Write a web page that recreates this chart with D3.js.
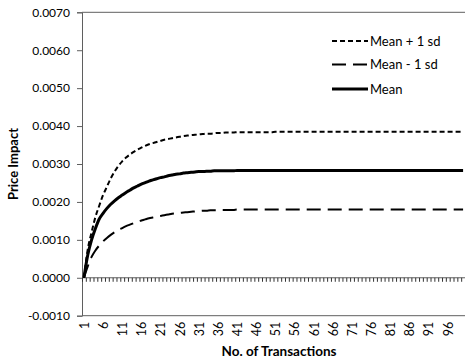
<!DOCTYPE html>
<html>
<head>
<meta charset="utf-8">
<script src="https://cdn.jsdelivr.net/npm/d3@7"></script>
<style>
  html, body { margin: 0; padding: 0; background: #fff; }
  svg { display: block; font-family: Lato, "Open Sans", sans-serif; }
</style>
</head>
<body>
<div id="chart"></div>
<script>
// Price impact over number of transactions
const categories = d3.range(1, 101); // transactions 1..100

const meanPlus = [
  0, 0.00075, 0.0012, 0.0016, 0.0019, 0.00218, 0.0024, 0.00262, 0.0028, 0.00295,
  0.00307, 0.00317, 0.00325, 0.00332, 0.00338, 0.00343, 0.00348, 0.00352, 0.00355, 0.00358,
  0.00361, 0.00364, 0.00366, 0.00368, 0.0037, 0.00372, 0.00374, 0.00375, 0.00376, 0.00377,
  0.00378, 0.00379, 0.0038, 0.0038, 0.00381, 0.00382, 0.00382, 0.00383, 0.00383, 0.00383,
  0.00384, 0.00384, 0.00384, 0.00384, 0.00384, 0.00384, 0.00384, 0.00384, 0.00384, 0.00384,
  0.00385, 0.00385, 0.00385, 0.00385, 0.00385, 0.00385, 0.00385, 0.00385, 0.00385, 0.00385,
  0.00385, 0.00385, 0.00385, 0.00385, 0.00385, 0.00385, 0.00385, 0.00385, 0.00385, 0.00385,
  0.00385, 0.00385, 0.00385, 0.00385, 0.00385, 0.00385, 0.00385, 0.00385, 0.00385, 0.00385,
  0.00385, 0.00385, 0.00385, 0.00385, 0.00385, 0.00385, 0.00385, 0.00385, 0.00385, 0.00385,
  0.00385, 0.00385, 0.00385, 0.00385, 0.00385, 0.00385, 0.00385, 0.00385, 0.00385, 0.00385
];

const meanMinus = [
  0, 0.0003, 0.00055, 0.00072, 0.00085, 0.00096, 0.00105, 0.00113, 0.0012, 0.00126,
  0.00131, 0.00136, 0.0014, 0.00144, 0.00148, 0.00151, 0.00154, 0.00157, 0.00159, 0.00161,
  0.00163, 0.00165, 0.00167, 0.00169, 0.0017, 0.00171, 0.00172, 0.00173, 0.00174, 0.00175,
  0.00176, 0.00177, 0.00177, 0.00178, 0.00178, 0.00178, 0.00179, 0.00179, 0.00179, 0.00179,
  0.0018, 0.0018, 0.0018, 0.0018, 0.0018, 0.0018, 0.0018, 0.0018, 0.0018, 0.0018,
  0.0018, 0.0018, 0.0018, 0.0018, 0.0018, 0.0018, 0.0018, 0.0018, 0.0018, 0.0018,
  0.0018, 0.0018, 0.0018, 0.0018, 0.0018, 0.0018, 0.0018, 0.0018, 0.0018, 0.0018,
  0.0018, 0.0018, 0.0018, 0.0018, 0.0018, 0.0018, 0.0018, 0.0018, 0.0018, 0.0018,
  0.0018, 0.0018, 0.0018, 0.0018, 0.0018, 0.0018, 0.0018, 0.0018, 0.0018, 0.0018,
  0.0018, 0.0018, 0.0018, 0.0018, 0.0018, 0.0018, 0.0018, 0.0018, 0.0018, 0.0018
];

const meanVals = [
  0, 0.0006, 0.001, 0.0013, 0.00155, 0.0017, 0.00183, 0.00194, 0.00203, 0.00211,
  0.00218, 0.00225, 0.00231, 0.00237, 0.00242, 0.00247, 0.00251, 0.00255, 0.00258, 0.00261,
  0.00264, 0.00266, 0.00269, 0.00271, 0.00273, 0.00274, 0.00276, 0.00277, 0.00278, 0.00279,
  0.0028, 0.0028, 0.00281, 0.00281, 0.00282, 0.00282, 0.00282, 0.00282, 0.00282, 0.00282,
  0.00283, 0.00283, 0.00283, 0.00283, 0.00283, 0.00283, 0.00283, 0.00283, 0.00283, 0.00283,
  0.00283, 0.00283, 0.00283, 0.00283, 0.00283, 0.00283, 0.00283, 0.00283, 0.00283, 0.00283,
  0.00283, 0.00283, 0.00283, 0.00283, 0.00283, 0.00283, 0.00283, 0.00283, 0.00283, 0.00283,
  0.00283, 0.00283, 0.00283, 0.00283, 0.00283, 0.00283, 0.00283, 0.00283, 0.00283, 0.00283,
  0.00283, 0.00283, 0.00283, 0.00283, 0.00283, 0.00283, 0.00283, 0.00283, 0.00283, 0.00283,
  0.00283, 0.00283, 0.00283, 0.00283, 0.00283, 0.00283, 0.00283, 0.00283, 0.00283, 0.00283
];

const yTicks = [-0.001, 0, 0.001, 0.002, 0.003, 0.004, 0.005, 0.006, 0.007];
const xLabels = [1, 6, 11, 16, 21, 26, 31, 36, 41, 46, 51, 56, 61, 66, 71, 76, 81, 86, 91, 96];

const series = [
  { name: "Mean + 1 sd", values: meanPlus, dash: "5,3", width: 2 },
  { name: "Mean - 1 sd", values: meanMinus, dash: "14,7", width: 2 },
  { name: "Mean", values: meanVals, dash: null, width: 3 }
];

const W = 465, H = 360;
const plotLeft = 82, plotRight = 465, plotTop = 12.3, plotBottom = 315.7;
const axisColor = "#5f5f5f";

const svg = d3.select("#chart").append("svg")
  .attr("width", W)
  .attr("height", H);

// category positions: each category sits in the middle of its slot
const x = d3.scaleLinear().domain([0.5, 100.5]).range([plotLeft, plotRight]);
const y = d3.scaleLinear().domain([-0.001, 0.007]).range([plotBottom, plotTop]);

// plot border lines (top and bottom)
svg.append("line")
  .attr("x1", plotLeft).attr("x2", plotRight)
  .attr("y1", y(0.007)).attr("y2", y(0.007))
  .attr("stroke", axisColor).attr("stroke-width", 1);
svg.append("line")
  .attr("x1", plotLeft).attr("x2", plotRight)
  .attr("y1", y(-0.001)).attr("y2", y(-0.001))
  .attr("stroke", axisColor).attr("stroke-width", 1);

// y axis
const yAxis = svg.append("g")
  .attr("transform", `translate(${plotLeft},0)`)
  .call(d3.axisLeft(y).tickValues(yTicks).tickSize(5).tickPadding(7)
    .tickFormat(d => d.toFixed(4)));
yAxis.select(".domain").attr("stroke", axisColor);
yAxis.selectAll(".tick line").attr("stroke", axisColor);
yAxis.selectAll("text").attr("font-size", "12px").attr("fill", "#000")
  .attr("font-family", "Lato, sans-serif");

// category axis crossing at zero, ticks between categories
const boundaries = categories.map(c => c - 0.5).concat([100.5]);
const zeroAxis = svg.append("g")
  .attr("transform", `translate(0,${y(0)})`)
  .call(d3.axisBottom(x).tickValues(boundaries).tickSize(4).tickFormat(""));
zeroAxis.select(".domain").attr("stroke", axisColor).attr("d", `M${plotLeft},0H${plotRight}`);
zeroAxis.selectAll(".tick line").attr("stroke", "#333");

// category labels at the bottom, rotated
const labelAxis = svg.append("g")
  .attr("transform", `translate(0,${y(-0.001)})`)
  .call(d3.axisBottom(x).tickValues(xLabels).tickSize(0).tickFormat(d3.format("d")));
labelAxis.select(".domain").remove();
labelAxis.selectAll("text")
  .attr("font-size", "12.5px").attr("fill", "#000")
  .attr("font-family", "Lato, sans-serif")
  .attr("text-anchor", "end")
  .attr("dy", "0.35em")
  .attr("transform", "translate(0,6) rotate(-90)")
  .attr("x", 0).attr("y", 0);

// lines
const line = d3.line()
  .x((d, i) => x(categories[i]))
  .y(d => y(d))
  .curve(d3.curveMonotoneX);

svg.selectAll("path.series")
  .data(series)
  .join("path")
  .attr("class", "series")
  .attr("d", s => line(s.values))
  .attr("fill", "none")
  .attr("stroke", "#000")
  .attr("stroke-width", s => s.width)
  .attr("stroke-dasharray", s => s.dash);

// legend
const legend = svg.append("g");
const legendY = [41, 64.5, 89];
series.forEach((s, i) => {
  legend.append("line")
    .attr("x1", 332).attr("x2", 368)
    .attr("y1", legendY[i]).attr("y2", legendY[i])
    .attr("stroke", "#000")
    .attr("stroke-width", s.width)
    .attr("stroke-dasharray", s.dash);
  legend.append("text")
    .attr("x", 370).attr("y", legendY[i])
    .attr("dy", "0.35em")
    .attr("font-size", "13px")
    .text(s.name);
});

// axis titles
svg.append("text")
  .attr("transform", `translate(18,${(plotTop + plotBottom) / 2}) rotate(-90)`)
  .attr("text-anchor", "middle")
  .attr("font-size", "13px")
  .attr("font-weight", "bold")
  .text("Price Impact");

svg.append("text")
  .attr("x", 279).attr("y", 356)
  .attr("text-anchor", "middle")
  .attr("font-size", "13.5px")
  .attr("font-weight", "bold")
  .text("No. of Transactions");
</script>
</body>
</html>
